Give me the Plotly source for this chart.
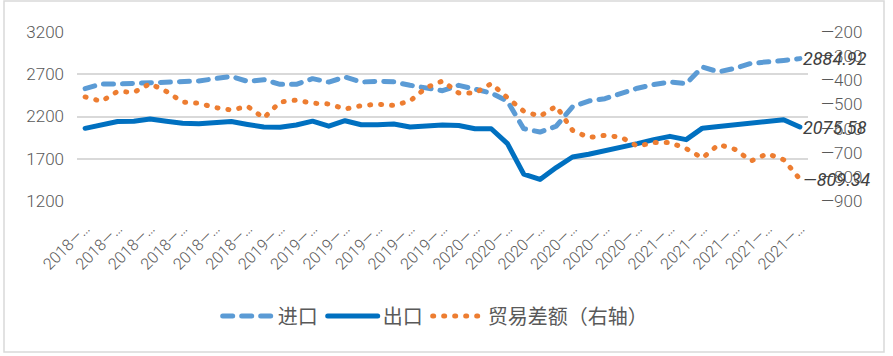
import plotly.graph_objects as go

# ---- data ----
months = [f"{y}-{m:02d}" for y in (2018, 2019, 2020, 2021) for m in range(1, 13)][:45]

imports = [2530, 2585, 2585, 2590, 2595, 2600, 2615, 2620, 2648, 2675,
           2615, 2636, 2581, 2581, 2648, 2608, 2667, 2608, 2616, 2610,
           2570, 2530, 2505, 2569, 2518, 2478, 2380, 2056, 2016, 2085,
           2315, 2383, 2411, 2472, 2535, 2578, 2608, 2589, 2785, 2728,
           2770, 2829, 2841, 2864, 2884.92]

exports = [2060, 2094, 2140, 2145, 2170, 2145, 2121, 2113, 2130, 2140,
           2106, 2075, 2074, 2100, 2145, 2085, 2150, 2102, 2102, 2112,
           2076, 2094, 2098, 2094, 2055, 2055, 1879, 1518, 1455, 1596,
           1721, 1753, 1792, 1839, 1879, 1926, 1965, 1926, 2062, 2082,
           2102, 2114, 2145, 2161, 2075.58]

balance = [-469, -487, -446, -450, -414, -446, -490, -495, -513, -523,
           -508, -556, -490, -482, -495, -498, -519, -505, -499, -504,
           -486, -430, -403, -453, -453, -414, -472, -528, -549, -507,
           -607, -637, -628, -636, -673, -658, -658, -683, -722, -666,
           -686, -734, -704, -729, -809.34]

tick_positions = months[::2]
tick_labels = [m[:4] + "—…" for m in tick_positions]

left_ticks = [1200, 1700, 2200, 2700, 3200]
right_ticks = [-900, -800, -700, -600, -500, -400, -300, -200]
right_labels = ["—900", "—800", "—700", "—600", "—500", "—400", "—300", "—200"]

end_labels = ["2884.92", "2075.58", "—809.34"]

C_IMP = "#5B9BD5"
C_EXP = "#0070C0"
C_BAL = "#ED7D31"
GRAY = "#595959"
NUMFONT = "Roboto, Lato, 'Open Sans', sans-serif"
CJK = "'Noto Sans CJK SC', 'Noto Sans', sans-serif"

fig = go.Figure()
fig.add_trace(go.Scatter(x=months, y=imports, name="进口", mode="lines",
                         line=dict(color=C_IMP, width=5, dash="10px,9px")))
fig.add_trace(go.Scatter(x=months, y=exports, name="出口", mode="lines",
                         line=dict(color=C_EXP, width=5)))
fig.add_trace(go.Scatter(x=months, y=balance, name="贸易差额（右轴）", mode="lines",
                         yaxis="y2",
                         line=dict(color=C_BAL, width=5, dash="1px,10px")))

annos = []
for txt, val, ref in zip(end_labels, [imports[-1], exports[-1], balance[-1]], ["y", "y", "y2"]):
    annos.append(dict(x=months[-1], y=val, xref="x", yref=ref, text=txt,
                      showarrow=False, xanchor="left", yanchor="middle", xshift=1,
                      font=dict(family=NUMFONT, size=18, color="#404040", style="italic")))

fig.update_layout(
    width=893, height=356,
    margin=dict(l=77, r=85, t=32, b=155, autoexpand=False),
    paper_bgcolor="white", plot_bgcolor="white",
    showlegend=True,
    hovermode=False,
    legend=dict(orientation="h", x=0.49, xanchor="center", y=-0.68, yanchor="middle",
                font=dict(family=CJK, size=20, color=GRAY), itemwidth=50),
    xaxis=dict(type="category", categoryorder="array", categoryarray=months,
               range=[-0.5, 44.5], tickvals=tick_positions, ticktext=tick_labels,
               tickangle=-45, showgrid=False, zeroline=False, showline=False,
               ticks="", ticklabelstandoff=14, automargin=False,
               tickfont=dict(family=NUMFONT, size=16, color=GRAY, weight=300)),
    yaxis=dict(range=[1200, 3200], tickvals=left_ticks, showgrid=True,
               gridcolor="#d9d9d9", gridwidth=1.5, zeroline=False, showline=False,
               ticks="", ticklabelstandoff=12, automargin=False,
               tickfont=dict(family=NUMFONT, size=17, color=GRAY, weight=300)),
    yaxis2=dict(range=[-900, -200], tickvals=right_ticks, ticktext=right_labels,
                overlaying="y", side="right", showgrid=False, zeroline=False,
                showline=False, ticks="", ticklabelstandoff=12, automargin=False,
                tickfont=dict(family=NUMFONT, size=17, color=GRAY, weight=300)),
    annotations=annos,
    shapes=[dict(type="rect", xref="paper", yref="paper",
                 x0=(4 - 77) / 731, x1=(884 - 77) / 731,
                 y0=(201 - 352) / 169, y1=(201 - 1) / 169,
                 line=dict(color="#d9d9d9", width=1.5), fillcolor="rgba(0,0,0,0)",
                 layer="below")],
)

post = """
document.body.style.margin = '0';
document.body.style.padding = '0';
var gd = document.getElementById('{plot_id}');
function fixCaps(){
  gd.querySelectorAll('path').forEach(function(p){
    var s = p.style.stroke || '';
    if (s.indexOf('237, 125, 49') >= 0 || s.indexOf('91, 155, 213') >= 0 || s.indexOf('0, 112, 192') >= 0) {
      p.style.strokeLinecap = 'round';
      p.style.strokeLinejoin = 'round';
    }
  });
}
fixCaps();
gd.on('plotly_afterplot', fixCaps);
"""

fig.write_html("out.html", post_script=post, config={"displayModeBar": False})
